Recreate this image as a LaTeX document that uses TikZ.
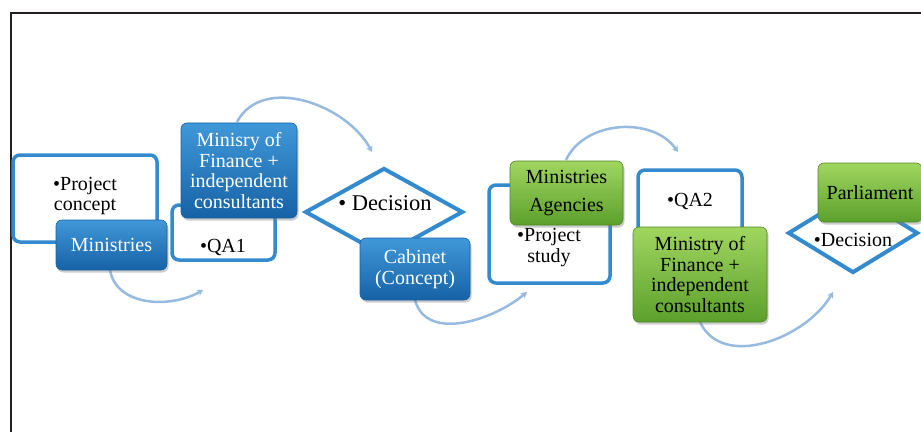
\documentclass[tikz,border=0pt]{standalone}
\usepackage{fontspec}
\setmainfont{Liberation Serif}
\usetikzlibrary{shapes.geometric,shadows,arrows.meta}
\definecolor{edgeblue}{RGB}{52,138,206}
\definecolor{bluetop}{RGB}{64,152,216}
\definecolor{bluebot}{RGB}{22,98,166}
\definecolor{greentop}{RGB}{160,214,96}
\definecolor{greenbot}{RGB}{92,160,44}
\definecolor{arcblue}{RGB}{150,186,224}
\definecolor{framegray}{RGB}{35,31,32}
\begin{document}
\begin{tikzpicture}[x=1pt,y=1pt,
  every node/.style={font=\fontsize{20}{20.5}\selectfont, align=center, inner sep=0pt},
  outline/.style={draw=edgeblue, line width=3.5pt, fill=white, rounded corners=7pt},
  solidbox/.style={rounded corners=6pt, line width=0.6pt,
     drop shadow={shadow xshift=1.5pt, shadow yshift=-2.5pt, opacity=0.4}},
  bluebox/.style={solidbox, top color=bluetop, bottom color=bluebot, draw=bluebot, text=white},
  greenbox/.style={solidbox, top color=greentop, bottom color=greenbot, draw=greenbot!85!black, text=black},
  diam/.style={diamond, draw=edgeblue, line width=4pt, fill=white},
  flow/.style={draw=arcblue, line width=2.5pt, -{Stealth[length=6pt,width=7pt]}}
]
\useasboundingbox (0,0) rectangle (921,432);
\draw[line width=2pt, framegray] (11,0) -- (11,419) -- (921,419);

% connector free ends
\coordinate (e1) at (203,142);
\coordinate (e2) at (372,280);
\coordinate (e3) at (527,140);
\coordinate (e4) at (678,280);
\coordinate (e5) at (833,140);

% white outline boxes and diamonds
\node[outline, minimum width=144, minimum height=87] (pc) at (85,233.5) {};
\node (pctext) at (85,236) {\textbullet Project\\concept};
\node[outline, minimum width=103, minimum height=55] (qa1) at (223.5,199.5) {};
\node (qa1text) at (223,185) {\textbullet QA1};
\node[diam, minimum width=158, minimum height=88] (d1) at (384,220) {};
\node[font=\fontsize{22.5}{24}\selectfont] (d1text) at (385,229) {\textbullet{} Decision};
\node[outline, minimum width=121, minimum height=98] (ps) at (549.5,198) {};
\node (pstext) at (549,184.5) {\textbullet Project\\study};
\node[outline, minimum width=104, minimum height=80] (qa2) at (690,222) {};
\node (qa2text) at (690,231) {\textbullet QA2};
\node[diam, minimum width=130, minimum height=80] (d2) at (853,199) {};
\node (d2text) at (853,192) {\textbullet Decision};

% connectors
\draw[flow] (110,162) coordinate (s1) to[out=-80,in=210] (e1);
\draw[flow] (237,310) coordinate (s2) to[out=62,in=118] (e2);
\draw[flow] (415,132) coordinate (s3) to[out=-75,in=220] (e3);
\draw[flow] (566,272) coordinate (s4) to[out=65,in=125] (e4);
\draw[flow] (700,110) coordinate (s5) to[out=-65,in=240] (e5);

% filled boxes
\node[bluebox, minimum width=111, minimum height=50] (min) at (111.5,187) {Ministries};
\node[bluebox, minimum width=116, minimum height=95] (mof1) at (239,261.5) {Minisry of\\Finance +\\independent\\consultants};
\node[bluebox, minimum width=110, minimum height=62] (cab) at (415,163) {Cabinet\\(Concept)};
\node[greenbox, minimum width=113, minimum height=64] (ma) at (566.5,239) {Ministries\\[7pt]Agencies};
\node[greenbox, minimum width=134, minimum height=95] (mof2) at (700,157.5) {Ministry of\\Finance +\\independent\\consultants};
\node[greenbox, minimum width=104, minimum height=59] (par) at (870,239.5) {Parliament};
\end{tikzpicture}
\end{document}
